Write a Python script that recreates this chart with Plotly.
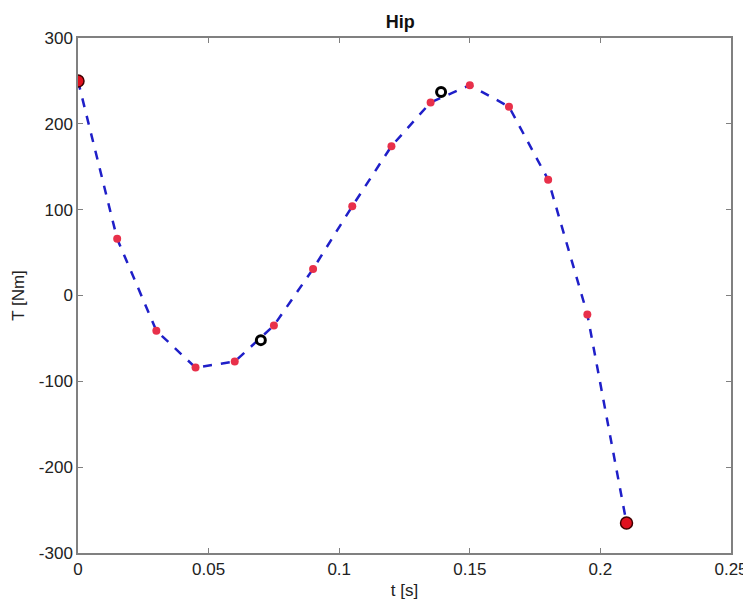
import plotly.graph_objects as go

t = [0, 0.015, 0.03, 0.045, 0.06, 0.075, 0.09, 0.105, 0.12, 0.135, 0.15, 0.165, 0.18, 0.195, 0.21]
torque = [250, 66, -41, -84, -77, -35, 31, 104, 174, 225, 245, 220, 135, -22, -265]
end_t = [0, 0.21]
end_T = [250, -265]
key_t = [0.07, 0.139]
key_T = [-52, 237]
x_ticks = [0, 0.05, 0.1, 0.15, 0.2, 0.25]
x_tick_labels = ["0", "0.05", "0.1", "0.15", "0.2", "0.25"]
y_ticks = [-300, -200, -100, 0, 100, 200, 300]
y_tick_labels = ["-300", "-200", "-100", "0", "100", "200", "300"]

FONT = "Liberation Sans, Arial"
fig = go.Figure()
fig.add_trace(go.Scatter(x=t, y=torque, mode="lines+markers",
                         line=dict(color="#1f1fc8", width=2.5, dash="dash"),
                         marker=dict(color="#e8304a", size=8, line=dict(width=0))))
fig.add_trace(go.Scatter(x=end_t, y=end_T, mode="markers",
                         marker=dict(color="#e0101e", size=12, line=dict(color="#400000", width=1.5))))
fig.add_trace(go.Scatter(x=key_t, y=key_T, mode="markers",
                         marker=dict(symbol="circle-open", color="black", size=9, line=dict(color="black", width=3))))

axis_common = dict(showgrid=False, zeroline=False, showline=True, linecolor="#808080", linewidth=1.5,
                   mirror="ticks", ticks="inside", ticklen=5, tickcolor="#808080", automargin=False,
                   tickfont=dict(family=FONT, size=17, color="#222"))
fig.update_xaxes(range=[0, 0.25], tickvals=x_ticks, ticktext=x_tick_labels,
                 title=dict(text="t [s]", font=dict(family=FONT, size=17, color="#222"), standoff=6),
                 **axis_common)
fig.update_yaxes(range=[-300, 300], tickvals=y_ticks, ticktext=y_tick_labels,
                 title=dict(text="T [Nm]", font=dict(family=FONT, size=17, color="#222"), standoff=10),
                 **axis_common)
fig.update_layout(width=743, height=597, showlegend=False,
                  plot_bgcolor="white", paper_bgcolor="white",
                  margin=dict(l=70, r=20, t=30, b=52, autoexpand=False),
                  title=dict(text="<b>Hip</b>", x=0.528, xanchor="center", y=0.977, yanchor="middle",
                             font=dict(family=FONT, size=18, color="#111")))
fig.write_html("out.html")
